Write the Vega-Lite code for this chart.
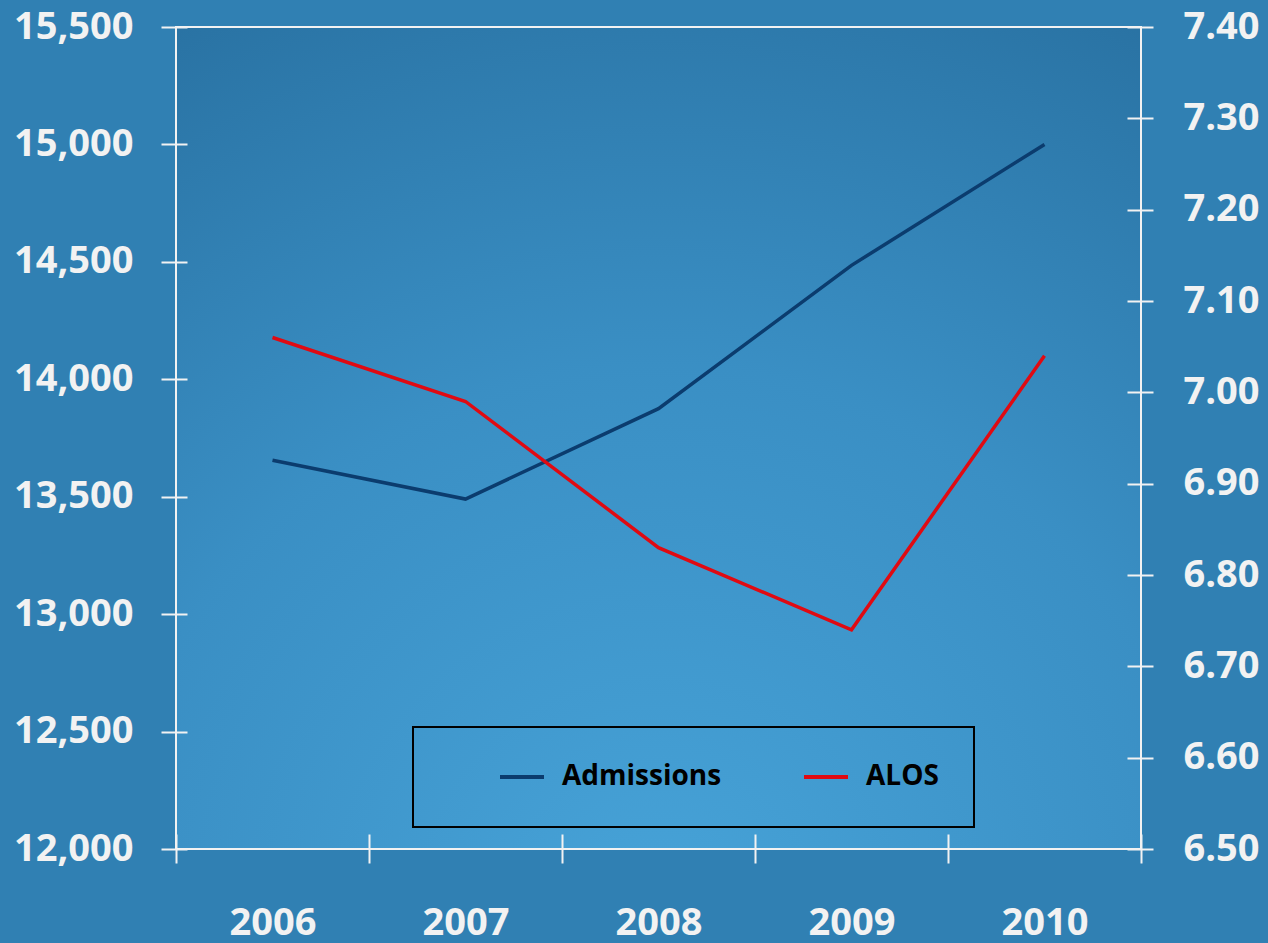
{
  "$schema": "https://vega.github.io/schema/vega-lite/v6.json",
  "width": 965,
  "height": 822,
  "autosize": {"type": "none"},
  "padding": {"left": 176, "top": 27, "right": 127, "bottom": 94},
  "background": "#3080b3",
  "data": {
    "values": [
      {"year": "2006", "Admissions": 13655, "ALOS": 7.06},
      {"year": "2007", "Admissions": 13490, "ALOS": 6.99},
      {"year": "2008", "Admissions": 13875, "ALOS": 6.83},
      {"year": "2009", "Admissions": 14485, "ALOS": 6.74},
      {"year": "2010", "Admissions": 15000, "ALOS": 7.04}
    ]
  },
  "encoding": {
    "x": {
      "field": "year",
      "type": "ordinal",
      "bandPosition": 0.5,
      "scale": {"type": "band", "paddingInner": 0, "paddingOuter": 0},
      "axis": {
        "title": null,
        "labelAngle": 0,
        "domain": false,
        "tickBand": "extent",
        "offset": -15,
        "tickSize": 29,
        "tickWidth": 2,
        "tickColor": "#f2f2f2",
        "labelPadding": 41,
        "labelFontSize": 38,
        "labelFont": "Open Sans",
        "labelFontWeight": "bold",
        "labelColor": "#f2f2f2"
      }
    }
  },
  "layer": [
    {
      "mark": {"type": "line", "strokeWidth": 3.5},
      "encoding": {
        "y": {
          "field": "Admissions",
          "type": "quantitative",
          "scale": {"domain": [12000, 15500], "nice": false, "zero": false},
          "axis": {
            "orient": "left",
            "title": null,
            "grid": false,
            "domain": false,
            "values": [12000, 12500, 13000, 13500, 14000, 14500, 15000, 15500],
            "format": ",.0f",
            "offset": -11,
            "tickSize": 26,
            "tickWidth": 2,
            "tickColor": "#f2f2f2",
            "labelPadding": 28,
            "labelFontSize": 38,
            "labelFont": "Open Sans",
            "labelFontWeight": "bold",
            "labelColor": "#f2f2f2"
          }
        },
        "color": {"datum": "Admissions", "type": "nominal"}
      }
    },
    {
      "mark": {"type": "line", "strokeWidth": 3.5},
      "encoding": {
        "y": {
          "field": "ALOS",
          "type": "quantitative",
          "scale": {"domain": [6.5, 7.4], "nice": false, "zero": false},
          "axis": {
            "orient": "right",
            "title": null,
            "grid": false,
            "domain": false,
            "values": [6.5, 6.6, 6.7, 6.8, 6.9, 7.0, 7.1, 7.2, 7.3, 7.4],
            "format": ".2f",
            "offset": -14,
            "tickSize": 26,
            "tickWidth": 2,
            "tickColor": "#f2f2f2",
            "labelPadding": 30,
            "labelFontSize": 38,
            "labelFont": "Open Sans",
            "labelFontWeight": "bold",
            "labelColor": "#f2f2f2"
          }
        },
        "color": {
          "datum": "ALOS",
          "type": "nominal",
          "scale": {"domain": ["Admissions", "ALOS"], "range": ["#0b3c6e", "#e00a12"]},
          "legend": {
            "title": null,
            "orient": "none",
            "direction": "horizontal",
            "legendX": 237,
            "legendY": 700,
            "symbolType": "stroke",
            "symbolSize": 1936,
            "symbolStrokeWidth": 4,
            "symbolOffset": 50,
            "labelOffset": 16,
            "labelLimit": 400,
            "columnPadding": 30,
            "clipHeight": 30,
            "padding": 35,
            "labelFontSize": 28,
            "labelFont": "Open Sans",
            "labelFontWeight": "bold",
            "labelColor": "black",
            "strokeColor": "black"
          }
        }
      }
    }
  ],
  "resolve": {"scale": {"y": "independent"}},
  "config": {
    "legend": {"strokeWidth": 2},
    "view": {
      "stroke": "#f2f2f2",
      "strokeWidth": 2,
      "fill": {
        "gradient": "radial",
        "x1": 0.5, "y1": 1, "r1": 0,
        "x2": 0.5, "y2": 1, "r2": 1.15,
        "stops": [
          {"offset": 0, "color": "#47a3d8"},
          {"offset": 0.5, "color": "#3a8fc4"},
          {"offset": 1, "color": "#266d9d"}
        ]
      }
    }
  }
}
